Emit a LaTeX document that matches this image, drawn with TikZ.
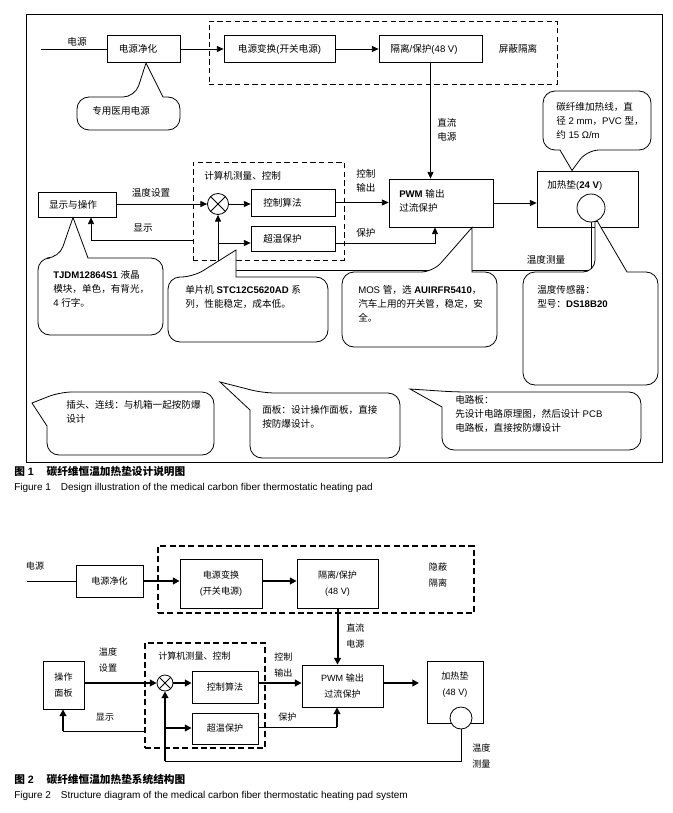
\documentclass[tikz,border=0pt]{standalone}
\usepackage{fontspec}
\setmainfont{Liberation Sans}
\newfontfamily\cjk{Noto Sans CJK SC}
\usetikzlibrary{arrows.meta}
\XeTeXinterchartokenstate=1
\newXeTeXintercharclass\cjkcls
\makeatletter
\count@="3000
\loop \XeTeXcharclass\count@=\cjkcls \advance\count@ 1 \ifnum\count@<"3040 \repeat
\count@="4E00
\loop \XeTeXcharclass\count@=\cjkcls \advance\count@ 1 \ifnum\count@<"A000 \repeat
\count@="FF00
\loop \XeTeXcharclass\count@=\cjkcls \advance\count@ 1 \ifnum\count@<"FFF0 \repeat
\makeatother
\XeTeXinterchartoks 0 \cjkcls = {\cjk}
\XeTeXinterchartoks 4095 \cjkcls = {\cjk}
\XeTeXinterchartoks \cjkcls 0 = {\rmfamily}
\XeTeXinterchartoks \cjkcls 4095 = {\rmfamily}
\begin{document}
\begin{tikzpicture}[x=0.75pt,y=-0.75pt,
  wh/.style 2 args={minimum width=#1*0.75pt,minimum height=#2*0.75pt},
  box/.style={draw,line width=0.6pt,inner sep=0pt,align=center},
  dbox/.style={draw,line width=0.6pt,dash pattern=on 4pt off 2.5pt,inner sep=0pt},
  tdbox/.style={draw,line width=1.6pt,dash pattern=on 4.5pt off 2.5pt,inner sep=0pt},
  txt/.style={inner sep=0pt,font=\fontsize{7.2}{10.5}\selectfont},
  txtb/.style={inner sep=0pt,font=\fontsize{6.8}{12}\selectfont},
  ln/.style={line width=0.6pt},
  arr/.style={line width=0.6pt,-{Triangle[length=5pt,width=4.5pt]}},
  tarr/.style={line width=1.5pt,-{Triangle[length=5pt,width=5pt]}},
  co/.style={draw,fill=white,line width=0.6pt},
  ]
\useasboundingbox (0,0) rectangle (672,813);
\fill[white] (0,0) rectangle (672,813);
%% ================= Figure 1 =================
\draw[ln] (26,14) rectangle (662,462);
\node[txt] (dy) at (77,42) {电源};
\coordinate (pin) at (41,49);
\node[box,wh={73}{27}] (jh) at (143.5,49) {};
\node[txt] (jht) at (138,49) {电源净化};
\draw[ln] (pin) -- (jh.west);
\node[dbox,wh={348}{63}] (sh) at (383,52.5) {};
\node[box,wh={111}{27},txt] (bh) at (279.5,49) {电源变换(开关电源)};
\node[box,wh={103}{27}] (gl) at (430.5,49) {};
\node[txt] (glt) at (424,49) {隔离/保护(48 V)};
\node[txt] (pbl) at (518,49) {屏蔽隔离};
\draw[arr] (jh.east) -- (bh.west);
\draw[arr] (bh.east) -- (gl.west);
% PWM
\node[box,wh={104}{48}] (pwm) at (441,203) {};
\node[txt,align=left,anchor=west] (pwmt) at (399,201) {\textbf{PWM} 输出\\过流保护};
\draw[arr] (gl.south) -- (gl.south |- pwm.north);
\node[txt,align=left,anchor=west] (zl) at (437,130) {直流\\电源};
% heating pad
\node[box,wh={101}{56}] (jrd) at (587.5,199) {};
\node[txt,anchor=west] (jrdt) at (547,185) {加热垫(\textbf{24 V})};
\node[circle,draw,fill=white,line width=0.6pt,minimum size=28*0.75pt,inner sep=0pt] (sen) at (591,208) {};
\draw[arr] (pwm.east) -- (pwm.east -| jrd.west);
% computer block
\node[dbox,wh={151}{98}] (ctrl) at (268.5,211) {};
\node[txt,anchor=west] (ctrlt) at (204,176) {计算机测量、控制};
\node[circle,draw,line width=0.6pt,minimum size=21*0.75pt,inner sep=0pt] (ot) at (218,204) {};
\draw[ln] (ot.north west) -- (ot.south east) (ot.north east) -- (ot.south west);
\node[box,wh={84}{27}] (kz) at (293,202.5) {};
\node[txt,anchor=west] (kzt) at (263,202.5) {控制算法};
\node[box,wh={84}{25}] (cw) at (293,238.5) {};
\node[txt,anchor=west] (cwt) at (263,238.5) {超温保护};
\node[box,wh={78}{25}] (xs) at (77,204.5) {};
\node[txt] (xstt) at (73,204.5) {显示与操作};
\draw[arr] (xs.east |- ot) -- (ot.west);
\node[txt] (wdsz) at (151,193) {温度设置};
\coordinate (xsb) at (91,240);
\draw[arr] (ctrl.west |- xsb) -- (xsb) -- (xsb |- xs.south);
\node[txt] (xst) at (143,228) {显示};
\draw[arr] (ot.east) -- (ot.east -| kz.west);
\draw[arr] (kz.east) -- (kz.east -| pwm.west);
\coordinate (cwb) at (435,243);
\draw[arr] (cw.east |- cwb) -- (cwb) -- (cwb |- pwm.south);
\node[txt,align=left,anchor=west] (kzsc) at (356,181) {控制\\输出};
\node[txt,anchor=west] (bht) at (356,233) {保护};
\coordinate (fb) at (591,270);
\draw[arr] (sen.south) -- (fb) -| (ot.south);
\coordinate (br) at (218,243);
\draw[arr] (br) -- (br -| cw.west);
\node[txt] (wdcl) at (546,260) {温度测量};
% callouts
\draw[co] (163,97) [rounded corners=9pt] -- (180,97) -- (180,130) -- (77,130) -- (77,97) -- (135,97) [sharp corners] -- (146,63) -- cycle;
\node[txt,anchor=west] (c1) at (92,111) {专用医用电源};
\draw[co] (88,258) [rounded corners=9pt] -- (163,258) -- (163,335) -- (38,335) -- (38,258) -- (59,258) [sharp corners] -- (73,217.5) -- cycle;
\node[txt,anchor=north west,align=left] (c2) at (53,270) {\textbf{TJDM12864S1} 液晶\\模块，单色，有背光，\\4 行字。};
\draw[co] (236,277) [rounded corners=9pt] -- (328,277) -- (328,342) -- (168,342) -- (168,277) -- (193,277) [sharp corners] -- (236,250) -- cycle;
\node[txt,anchor=north west,align=left] (c3) at (185,285) {单片机 \textbf{STC12C5620AD} 系\\列，性能稳定，成本低。};
\draw[co] (472,272) [rounded corners=9pt] -- (497,272) -- (497,347) -- (342,347) -- (342,272) -- (433,272) [sharp corners] -- (472,227.5) -- cycle;
\node[txt,anchor=north west,align=left] (c4) at (358,285) {MOS 管，选 \textbf{AUIRFR5410}，\\汽车上用的开关管，稳定，安\\全。};
\draw[co] (560,150) [rounded corners=9pt] -- (543,150) -- (543,91) -- (651,91) -- (651,150) -- (587,150) [sharp corners] -- (572,170.5) -- cycle;
\node[txt,anchor=north west,align=left] (c5) at (556,102) {碳纤维加热线，直\\径 2 mm，PVC 型，\\约 15 Ω/m};
\draw[co] (627,272) [rounded corners=9pt] -- (658,272) -- (658,385) -- (523,385) -- (523,272) -- (595,272) [sharp corners] -- (595,221.5) -- (597.5,221.5) -- cycle;
\node[txt,anchor=north west,align=left] (c6) at (537,285) {温度传感器：\\型号：\textbf{DS18B20}};
\draw[co] (47,426) [rounded corners=9pt] -- (47,455) -- (214,455) -- (214,392) -- (60,392) [sharp corners] -- (32,403) -- cycle;
\node[txt,anchor=north west,align=left] (c7) at (66,400) {插头、连线：与机箱一起按防爆\\设计};
\draw[co] (250,410) [rounded corners=9pt] -- (250,458) -- (400,458) -- (400,393) -- (263,393) [sharp corners] -- (220,382) -- cycle;
\node[txt,anchor=north west,align=left] (c8) at (262,405) {面板：设计操作面板，直接\\按防爆设计。};
\draw[co] (442,407) [rounded corners=9pt] -- (442,450) -- (641,450) -- (641,392) -- (455,392) [sharp corners] -- (410,389) -- cycle;
\node[txt,anchor=north west,align=left] (c9) at (455,395) {电路板：\\先设计电路原理图，然后设计 PCB\\电路板，直接按防爆设计};
% caption 1
\node[anchor=west,inner sep=0pt,font=\fontsize{8}{10}\selectfont\bfseries] (cap1) at (14,471) {图 1\hspace{1.2em}碳纤维恒温加热垫设计说明图};
\node[anchor=west,inner sep=0pt,font=\fontsize{7.5}{9}\selectfont] (fig1) at (14,488) {Figure 1\hspace{1em}Design illustration of the medical carbon fiber thermostatic heating pad};
%% ================= Figure 2 =================
\node[txtb] (dy2) at (35,566) {电源};
\coordinate (pin2) at (27,581);
\node[box,wh={67}{32},txtb] (jh2) at (109.5,581) {电源净化};
\draw[ln] (pin2) -- (jh2.west);
\node[tdbox,wh={316}{67}] (sh2) at (316,579.5) {};
\node[box,wh={82}{49},txtb] (bh2) at (221,583.5) {电源变换\\(开关电源)};
\node[box,wh={81}{49},txtb] (gl2) at (337.5,583.5) {隔离/保护\\(48 V)};
\node[txtb,align=left] (yb) at (438,575) {隐蔽\\隔离};
\draw[tarr] (jh2.east) -- (jh2.east -| bh2.west);
\draw[tarr] (bh2.east |- jh2) -- (gl2.west |- jh2);
\node[box,wh={81}{42},txtb] (pwm2) at (342.5,686) {PWM 输出\\过流保护};
\draw[tarr] (gl2.south) -- (gl2.south |- pwm2.north);
\node[txtb,align=left,anchor=west] (zl2) at (346,636) {直流\\电源};
\node[box,wh={41}{48},txtb] (cz) at (63.5,685) {操作\\面板};
\node[txtb,align=center] (wdsz2) at (108,660) {温度\\设置};
\node[tdbox,wh={120}{105}] (ctrl2) at (205,695.5) {};
\node[txtb,anchor=west] (ctrlt2) at (158,656) {计算机测量、控制};
\node[circle,draw,line width=0.6pt,minimum size=16*0.75pt,inner sep=0pt] (ot2) at (165,683) {};
\draw[ln] (ot2.north west) -- (ot2.south east) (ot2.north east) -- (ot2.south west);
\node[box,wh={66}{32},txtb] (kz2) at (225,687) {控制算法};
\node[box,wh={66}{31},txtb] (cw2) at (225,728.5) {超温保护};
\node[box,wh={56}{62}] (jrd2) at (455,692) {};
\node[txtb,align=center] (jrdt2) at (455,685) {加热垫\\(48 V)};
\node[circle,draw,fill=white,line width=0.6pt,minimum size=22*0.75pt,inner sep=0pt] (sen2) at (461,718) {};
\draw[tarr] (cz.east |- ot2) -- (ot2.west);
\draw[tarr] (ot2.east) -- (ot2.east -| kz2.west);
\draw[tarr] (kz2.east |- ot2) -- (pwm2.west |- ot2);
\coordinate (jr2a) at (419,683);
\draw[tarr] (pwm2.east |- ot2) -- (jr2a);
\node[txtb,align=left,anchor=west] (kzsc2) at (274,665) {控制\\输出};
\node[txtb,anchor=west] (bht2) at (278,717) {保护};
\coordinate (cw2b) at (337,727);
\draw[ln] (cw2.east |- cw2b) -- (cw2b);
\draw[tarr] (cw2b) -- (cw2b |- pwm2.south);
\coordinate (fb2) at (461,761);
\coordinate (fb2l) at (165,761);
\draw[ln] (sen2.south) -- (fb2) -- (fb2l);
\draw[tarr] (fb2l) -- (ot2.south);
\coordinate (br2) at (165,728);
\draw[tarr] (br2) -- (br2 -| cw2.west);
\coordinate (xs2) at (63,731);
\draw[ln] (ctrl2.west |- xs2) -- (xs2);
\draw[tarr] (xs2) -- (xs2 |- cz.south);
\node[txtb] (xst2) at (105,717) {显示};
\node[txtb,align=left,anchor=west] (wdcl2) at (472,756) {温度\\测量};
\node[anchor=west,inner sep=0pt,font=\fontsize{8}{10}\selectfont\bfseries] (cap2) at (14,779) {图 2\hspace{1.2em}碳纤维恒温加热垫系统结构图};
\node[anchor=west,inner sep=0pt,font=\fontsize{7.5}{9}\selectfont] (fig2) at (14,796) {Figure 2\hspace{1em}Structure diagram of the medical carbon fiber thermostatic heating pad system};
\end{tikzpicture}
\end{document}
